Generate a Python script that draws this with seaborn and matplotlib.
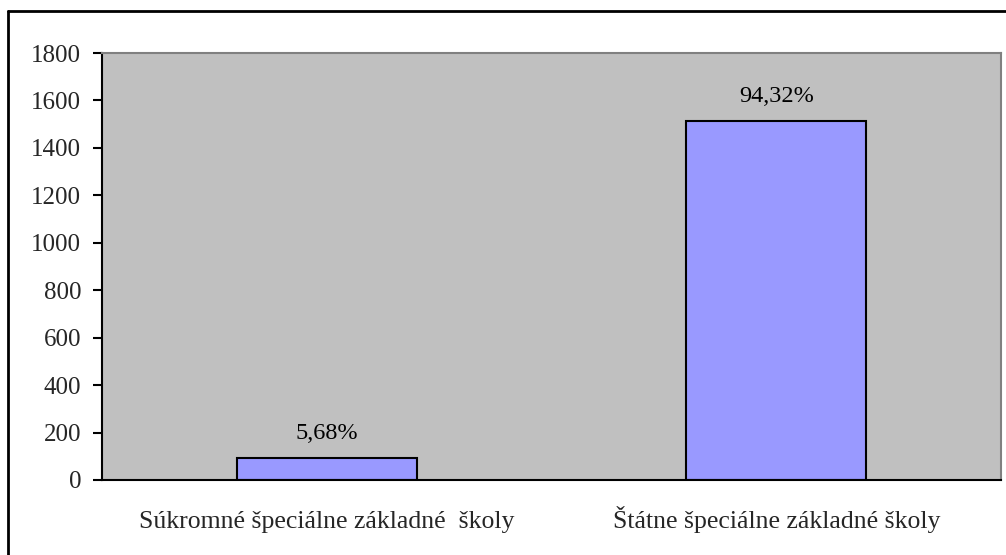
import numpy as np
import pandas as pd
import matplotlib.pyplot as plt
import seaborn as sns
from matplotlib.lines import Line2D

# DADOS
categorias = ["Súkromné špeciálne základné  školy", "Štátne špeciálne základné školy"]
valores = [91, 1512]
rotulos = ["5,68%", "94,32%"]
y_ticks = [0, 200, 400, 600, 800, 1000, 1200, 1400, 1600, 1800]

df = pd.DataFrame({"cat": categorias, "val": valores})

sns.set_theme(style="white")
plt.rcParams["font.family"] = ["Liberation Serif", "DejaVu Serif"]

W, H = 1006, 555
fig = plt.figure(figsize=(W / 100, H / 100), dpi=100)
ax = fig.add_axes([102 / W, 1 - 480 / H, (1001 - 102) / W, (480 - 53) / H])
ax.set_facecolor("#C0C0C0")

sns.barplot(data=df, x="cat", y="val", ax=ax, color="#9999FF", width=0.4,
            edgecolor="black", linewidth=1.5, saturation=1)

# rótulos percentuais acima das barras
for i, (v, r) in enumerate(zip(valores, rotulos)):
    ax.annotate(r, (i, v), xytext=(0, 13.7), textcoords="offset points",
                ha="center", va="baseline", fontsize=17.5, color="black")

ax.set_xlim(-0.5, 1.5)
ax.set_ylim(0, 1800)
ax.set_yticks(y_ticks)
ax.set_yticklabels([str(t) for t in y_ticks], fontsize=18)
ax.set_xticks([0, 1])
ax.set_xticklabels(categorias, fontsize=18.5)
for lbl in ax.get_xticklabels():
    lbl.set_va("baseline")
ax.set_xlabel("")
ax.set_ylabel("")

# ticks do eixo x nas divisas das categorias
ax.set_xticks([-0.5, 0.5, 1.5], minor=True)
ax.tick_params(axis="x", which="major", length=0, pad=34.6)
ax.tick_params(axis="x", which="minor", direction="out", length=6.5, width=1.5, color="black")
ax.tick_params(axis="y", direction="out", length=6.5, width=1.5, color="black", left=True, pad=8.6)

for s in ["top", "right"]:
    ax.spines[s].set_color("#808080")
    ax.spines[s].set_linewidth(1.5)
for s in ["left", "bottom"]:
    ax.spines[s].set_color("black")
    ax.spines[s].set_linewidth(1.5)

# borda externa (só topo e esquerda aparecem no recorte)
fig.add_artist(Line2D([8 / W, 1], [1 - 11 / H, 1 - 11 / H], transform=fig.transFigure,
                      color="black", linewidth=2))
fig.add_artist(Line2D([8 / W, 8 / W], [0, 1 - 11 / H], transform=fig.transFigure,
                      color="black", linewidth=2))

fig.savefig("out.png", dpi=100)
